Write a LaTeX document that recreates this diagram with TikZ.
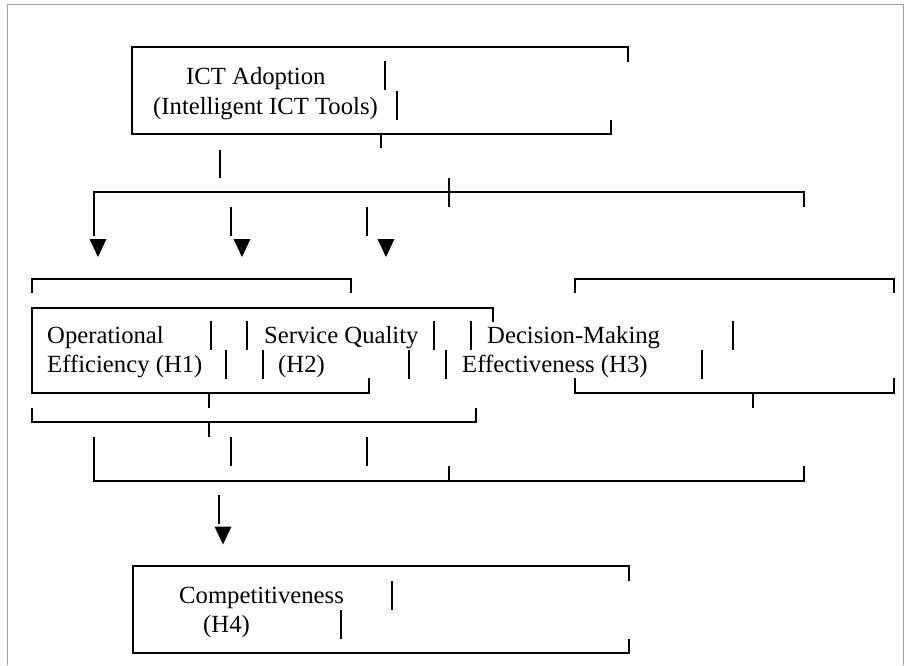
\documentclass[tikz,border=0pt]{standalone}
\usepackage{fontspec}
\setmainfont{Liberation Serif}
\begin{document}
\begin{tikzpicture}[x=1pt,y=-1pt,
  bar/.style={line width=1.9pt},
  frameline/.style={draw=gray!75,line width=1pt},
  lbl/.style={anchor=base west,inner sep=0pt,font=\fontsize{24.7}{29}\selectfont},
  downtri/.pic={\fill (-8.5,-9) -- (8.5,-9) -- (0,9) -- cycle;}]
\useasboundingbox (0,0) rectangle (906,665);

% page frame
\draw[frameline] (7,665) -- (7,4) -- (903,4) -- (903,665);

% ---- ICT Adoption box ----
\node[lbl] (ict1) at (186,84) {ICT Adoption};
\node[lbl] (ict2) at (153,114) {(Intelligent ICT Tools)};
\draw[bar] (628,62) -- (628,47) -- (132,47) -- (132,134) -- (611,134) -- (611,120);
\draw[bar] (385,61) -- (385,90);
\draw[bar] (397,91) -- (397,120);
\draw[bar] (381,134) -- (381,148);
\draw[bar] (220,150) -- (220,178);

% ---- distribution line with arrows ----
\coordinate (dl) at (94,192);
\coordinate (dr) at (804,192);
\draw[bar] (94,236) -- (dl) -- (dr) -- (804,207);
\draw[bar] (449,178) -- (449,207);
\draw[bar] (231,207) -- (231,236);
\draw[bar] (367,207) -- (367,236);
\pic at (98,248) {downtri};
\pic at (242,248) {downtri};
\pic at (386,248) {downtri};

% ---- hypothesis boxes ----
\draw[bar] (32,293) -- (32,279) -- (351,279) -- (351,293);
\draw[bar] (493,322) -- (493,308) -- (32,308) -- (32,393) -- (369,393) -- (369,378);
\draw[bar] (209,393) -- (209,408);
\draw[bar] (32,408) -- (32,422) -- (476,422) -- (476,408);
\draw[bar] (209,422) -- (209,437);

\draw[bar] (575,293) -- (575,279) -- (894,279) -- (894,293);
\draw[bar] (575,378) -- (575,393) -- (894,393) -- (894,378);
\draw[bar] (753,393) -- (753,408);

\node[lbl] (op1) at (47,343) {Operational};
\node[lbl] (op2) at (47,372) {Efficiency (H1)};
\node[lbl] (sq1) at (264,343) {Service Quality};
\node[lbl] (sq2) at (278,372) {(H2)};
\node[lbl] (dm1) at (487,343) {Decision-Making};
\node[lbl] (dm2) at (462,372) {Effectiveness (H3)};

\foreach \x in {211,247,434,471,733} \draw[bar] (\x,321) -- (\x,350);
\foreach \x in {226,263,409,446,702} \draw[bar] (\x,350) -- (\x,379);

% ---- collecting line ----
\draw[bar] (94,437) -- (94,481) -- (804,481) -- (804,466);
\draw[bar] (231,437) -- (231,466);
\draw[bar] (367,437) -- (367,466);
\draw[bar] (449,466) -- (449,481);
\draw[bar] (219,495) -- (219,524);
\pic at (223,535.5) {downtri};

% ---- Competitiveness box ----
\draw[bar] (629,581) -- (629,566) -- (133,566) -- (133,653) -- (629,653) -- (629,639);
\node[lbl] (co1) at (179,603) {Competitiveness};
\node[lbl] (co2) at (203,632) {(H4)};
\draw[bar] (392,581) -- (392,610);
\draw[bar] (341,610) -- (341,639);
\end{tikzpicture}
\end{document}
